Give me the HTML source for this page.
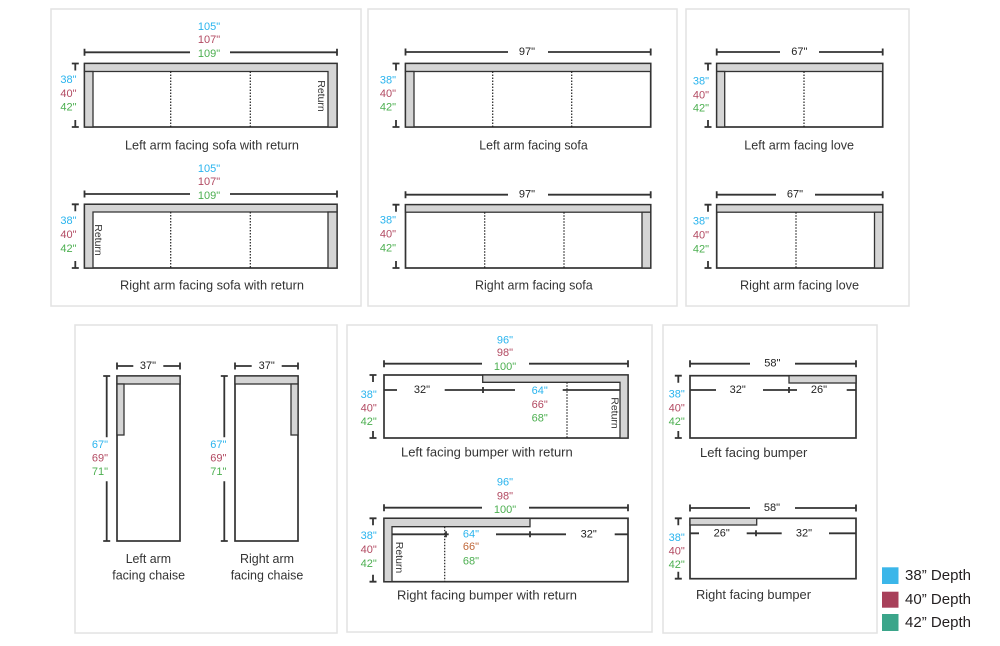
<!DOCTYPE html>
<html>
<head>
<meta charset="utf-8">
<style>
  html,body{margin:0;padding:0;background:#fff;}
  svg{display:block;}
  text{font-family:"Liberation Sans", Arial, sans-serif;}
  .c{fill:#2ab4ee;font-size:11px;}
  .r{fill:#b24a62;font-size:11px;}
  .g{fill:#4caf50;font-size:11px;}
  .o{fill:#c0683a;font-size:11px;}
  .k{fill:#222;font-size:11px;}
  .cap{fill:#333;font-size:12.9px;}
  .ret{fill:#333;font-size:10.5px;}
  .leg{fill:#231f20;font-size:14.5px;}
  .dim{stroke:#333;stroke-width:1.8;fill:none;}
  .sh{stroke:#333;stroke-width:1.7;fill:#fff;}
  .gr{stroke:#333;stroke-width:1.3;fill:#d5d5d5;}
  .dot{stroke:#222;stroke-width:1.2;stroke-dasharray:1.5 1.5;fill:none;}
  .pan{stroke:#e2e2e2;stroke-width:1.5;fill:none;}
</style>
</head>
<body>
<svg width="1000" height="646" viewBox="0 0 1000 646" xmlns="http://www.w3.org/2000/svg">
  <!-- Panels -->
  <rect class="pan" x="51" y="9" width="310" height="297"/>
  <rect class="pan" x="368" y="9" width="309" height="297"/>
  <rect class="pan" x="686" y="9" width="223" height="297"/>
  <rect class="pan" x="75" y="325" width="262" height="308"/>
  <rect class="pan" x="347" y="325" width="305" height="307"/>
  <rect class="pan" x="663" y="325" width="214" height="308"/>

  <g text-anchor="middle" dominant-baseline="central">

  <!-- ===== P1 top: Left arm facing sofa with return ===== -->
  <path class="dim" d="M84.5 52.3 H190 M230 52.3 H337 M84.5 48.8 V55.8 M337 48.8 V55.8"/>
  <text class="c" x="209" y="27">105"</text>
  <text class="r" x="209" y="40">107"</text>
  <text class="g" x="209" y="54">109"</text>
  <rect class="sh" x="84.5" y="63.5" width="252.5" height="63.5"/>
  <polygon class="gr" points="84.5,63.5 337,63.5 337,127 328,127 328,71.5 84.5,71.5"/>
  <rect class="gr" x="84.5" y="71.5" width="8.5" height="55.5"/>
  <path class="dot" d="M170.7 71.5 V127 M250.3 71.5 V127"/>
  <text class="ret" transform="translate(321,96) rotate(90)">Return</text>
  <path class="dim" d="M71.8 63.5 H78.8 M75.3 63.5 V70.5 M75.3 120 V127 M71.8 127 H78.8"/>
  <text class="c" x="68.5" y="80">38"</text>
  <text class="r" x="68.5" y="94">40"</text>
  <text class="g" x="68.5" y="107.5">42"</text>

  <!-- ===== P1 bottom: Right arm facing sofa with return ===== -->
  <path class="dim" d="M84.5 194 H190 M230 194 H337 M84.5 190.5 V197.5 M337 190.5 V197.5"/>
  <text class="c" x="209" y="169">105"</text>
  <text class="r" x="209" y="182">107"</text>
  <text class="g" x="209" y="196">109"</text>
  <rect class="sh" x="84.5" y="204.3" width="252.5" height="63.7"/>
  <polygon class="gr" points="84.5,204.3 337,204.3 337,212 93,212 93,268 84.5,268"/>
  <rect class="gr" x="328" y="212" width="9" height="56"/>
  <path class="dot" d="M170.7 212 V268 M250.3 212 V268"/>
  <text class="ret" transform="translate(98,240) rotate(90)">Return</text>
  <path class="dim" d="M71.8 204.3 H78.8 M75.3 204.3 V211.3 M75.3 261 V268 M71.8 268 H78.8"/>
  <text class="c" x="68.5" y="221">38"</text>
  <text class="r" x="68.5" y="235">40"</text>
  <text class="g" x="68.5" y="249">42"</text>

  <!-- ===== P2 top: Left arm facing sofa ===== -->
  <path class="dim" d="M405.5 52 H508 M548 52 H650.7 M405.5 48.5 V55.5 M650.7 48.5 V55.5"/>
  <text class="k" x="527" y="52">97"</text>
  <rect class="sh" x="405.5" y="63.5" width="245.2" height="63.5"/>
  <rect class="gr" x="405.5" y="63.5" width="245.2" height="8"/>
  <rect class="gr" x="405.5" y="71.5" width="8.5" height="55.5"/>
  <path class="dot" d="M492.7 71.5 V127 M571.7 71.5 V127"/>
  <path class="dim" d="M392.5 63.5 H399.5 M396 63.5 V70.5 M396 120 V127 M392.5 127 H399.5"/>
  <text class="c" x="388" y="80.7">38"</text>
  <text class="r" x="388" y="94">40"</text>
  <text class="g" x="388" y="107.7">42"</text>

  <!-- ===== P2 bottom: Right arm facing sofa ===== -->
  <path class="dim" d="M405.5 194.7 H508 M548 194.7 H650.7 M405.5 191.2 V198.2 M650.7 191.2 V198.2"/>
  <text class="k" x="527" y="194.7">97"</text>
  <rect class="sh" x="405.5" y="204.7" width="245.2" height="63.3"/>
  <rect class="gr" x="405.5" y="204.7" width="245.2" height="7.5"/>
  <rect class="gr" x="642" y="212.2" width="8.7" height="55.8"/>
  <path class="dot" d="M484.7 212.2 V268 M564 212.2 V268"/>
  <path class="dim" d="M392.5 204.7 H399.5 M396 204.7 V211.7 M396 261 V268 M392.5 268 H399.5"/>
  <text class="c" x="388" y="220.3">38"</text>
  <text class="r" x="388" y="234.3">40"</text>
  <text class="g" x="388" y="248.3">42"</text>

  <!-- ===== P3 top: Left arm facing love ===== -->
  <path class="dim" d="M716.7 52 H780 M819 52 H882.7 M716.7 48.5 V55.5 M882.7 48.5 V55.5"/>
  <text class="k" x="799.3" y="52">67"</text>
  <rect class="sh" x="716.7" y="63.5" width="166" height="63.5"/>
  <rect class="gr" x="716.7" y="63.5" width="166" height="8"/>
  <rect class="gr" x="716.7" y="71.5" width="8" height="55.5"/>
  <path class="dot" d="M804 71.5 V127"/>
  <path class="dim" d="M704.5 63.5 H711.5 M708 63.5 V70.5 M708 120 V127 M704.5 127 H711.5"/>
  <text class="c" x="701" y="81.3">38"</text>
  <text class="r" x="701" y="95.3">40"</text>
  <text class="g" x="701" y="108.7">42"</text>

  <!-- ===== P3 bottom: Right arm facing love ===== -->
  <path class="dim" d="M716.7 194.7 H776 M815 194.7 H882.7 M716.7 191.2 V198.2 M882.7 191.2 V198.2"/>
  <text class="k" x="795" y="194.7">67"</text>
  <rect class="sh" x="716.7" y="204.7" width="166" height="63.3"/>
  <rect class="gr" x="716.7" y="204.7" width="166" height="7.5"/>
  <rect class="gr" x="874.5" y="212.2" width="8.2" height="55.8"/>
  <path class="dot" d="M796 212.2 V268"/>
  <path class="dim" d="M704.5 204.7 H711.5 M708 204.7 V211.7 M708 261 V268 M704.5 268 H711.5"/>
  <text class="c" x="701" y="221.3">38"</text>
  <text class="r" x="701" y="235.7">40"</text>
  <text class="g" x="701" y="249.7">42"</text>

  <!-- ===== P4: chaises ===== -->
  <path class="dim" d="M117 366 H133.3 M163.3 366 H180 M117 362.5 V369.5 M180 362.5 V369.5"/>
  <text class="k" x="148" y="366">37"</text>
  <rect class="sh" x="117" y="376" width="63" height="165"/>
  <rect class="gr" x="117" y="376" width="63" height="8"/>
  <rect class="gr" x="117" y="384" width="7" height="51"/>
  <path class="dim" d="M106.7 376 V437.3 M106.7 481.3 V541 M103.2 376 H110.2 M103.2 541 H110.2"/>
  <text class="c" x="100" y="445">67"</text>
  <text class="r" x="100" y="458.5">69"</text>
  <text class="g" x="100" y="472">71"</text>

  <path class="dim" d="M235 366 H251.7 M281.7 366 H298 M235 362.5 V369.5 M298 362.5 V369.5"/>
  <text class="k" x="266.7" y="366">37"</text>
  <rect class="sh" x="235" y="376" width="63" height="165"/>
  <rect class="gr" x="235" y="376" width="63" height="8"/>
  <rect class="gr" x="291" y="384" width="7" height="51"/>
  <path class="dim" d="M224.3 376 V437.3 M224.3 481.3 V541 M220.8 376 H227.8 M220.8 541 H227.8"/>
  <text class="c" x="218.3" y="445">67"</text>
  <text class="r" x="218.3" y="458.5">69"</text>
  <text class="g" x="218.3" y="472">71"</text>

  <!-- ===== P5 top: Left facing bumper with return ===== -->
  <path class="dim" d="M384 363.7 H482 M529 363.7 H628 M384 360.2 V367.2 M628 360.2 V367.2"/>
  <text class="c" x="505" y="340.7">96"</text>
  <text class="r" x="505" y="353">98"</text>
  <text class="g" x="505" y="367">100"</text>
  <rect class="sh" x="384" y="375" width="244" height="63"/>
  <polygon class="gr" points="482.7,375 628,375 628,438 620,438 620,382.3 482.7,382.3"/>
  <path class="dot" d="M567 382.3 V438"/>
  <path class="dim" d="M384 390 H397 M444.7 390 H515 M562.7 390 H620 M483 387 V393"/>
  <text class="k" x="422" y="390">32"</text>
  <text class="c" x="539.7" y="391">64"</text>
  <text class="r" x="539.7" y="405">66"</text>
  <text class="g" x="539.7" y="418.7">68"</text>
  <text class="ret" transform="translate(614.7,413) rotate(90)">Return</text>
  <path class="dim" d="M369.5 375 H376.5 M373 375 V382 M373 431 V438 M369.5 438 H376.5"/>
  <text class="c" x="368.7" y="395">38"</text>
  <text class="r" x="368.7" y="408.5">40"</text>
  <text class="g" x="368.7" y="422">42"</text>

  <!-- ===== P5 bottom: Right facing bumper with return ===== -->
  <path class="dim" d="M384 507.7 H482 M529 507.7 H628 M384 504.2 V511.2 M628 504.2 V511.2"/>
  <text class="c" x="505" y="482.7">96"</text>
  <text class="r" x="505" y="496.7">98"</text>
  <text class="g" x="505" y="510">100"</text>
  <rect class="sh" x="384" y="518.3" width="244" height="63.4"/>
  <polygon class="gr" points="384,518.3 530,518.3 530,526.7 392,526.7 392,581.7 384,581.7"/>
  <path class="dot" d="M444.7 526.7 V581.7"/>
  <path class="dim" d="M392 534.3 H448.7 M496 534.3 H566 M614.7 534.3 H628 M446 531.3 V537.3 M530 531.3 V537.3"/>
  <text class="c" x="471" y="534.3">64"</text>
  <text class="o" x="471" y="547">66"</text>
  <text class="g" x="471" y="561.7">68"</text>
  <text class="k" x="588.7" y="534.3">32"</text>
  <text class="ret" transform="translate(399,557.5) rotate(90)">Return</text>
  <path class="dim" d="M369.5 518.3 H376.5 M373 518.3 V525.3 M373 574.7 V581.7 M369.5 581.7 H376.5"/>
  <text class="c" x="368.7" y="536">38"</text>
  <text class="r" x="368.7" y="550">40"</text>
  <text class="g" x="368.7" y="564">42"</text>

  <!-- ===== P6 top: Left facing bumper ===== -->
  <path class="dim" d="M690 363.7 H750 M795 363.7 H856 M690 360.2 V367.2 M856 360.2 V367.2"/>
  <text class="k" x="772.3" y="363.7">58"</text>
  <rect class="sh" x="690" y="375.7" width="166" height="62.3"/>
  <rect class="gr" x="789" y="375.7" width="67" height="7.3"/>
  <path class="dim" d="M690 390 H716 M763 390 H797 M846.7 390 H856 M789 387 V393"/>
  <text class="k" x="737.7" y="390">32"</text>
  <text class="k" x="819" y="390">26"</text>
  <path class="dim" d="M674.8 375.7 H681.8 M678.3 375.7 V382.7 M678.3 431 V438 M674.8 438 H681.8"/>
  <text class="c" x="676.7" y="394.7">38"</text>
  <text class="r" x="676.7" y="408.3">40"</text>
  <text class="g" x="676.7" y="422">42"</text>

  <!-- ===== P6 bottom: Right facing bumper ===== -->
  <path class="dim" d="M690 508 H750 M795 508 H856 M690 504.5 V511.5 M856 504.5 V511.5"/>
  <text class="k" x="772" y="508">58"</text>
  <rect class="sh" x="690" y="518.3" width="166" height="60.4"/>
  <rect class="gr" x="690" y="518.3" width="66.7" height="6.7"/>
  <path class="dim" d="M690 533.3 H699 M746.7 533.3 H781.7 M829 533.3 H856 M756 530.3 V536.3"/>
  <text class="k" x="721.7" y="533.3">26"</text>
  <text class="k" x="804" y="533.3">32"</text>
  <path class="dim" d="M674.8 518.3 H681.8 M678.3 518.3 V525.3 M678.3 571.7 V578.7 M674.8 578.7 H681.8"/>
  <text class="c" x="676.7" y="538">38"</text>
  <text class="r" x="676.7" y="551.3">40"</text>
  <text class="g" x="676.7" y="565">42"</text>
  </g>

  <!-- Captions -->
  <g dominant-baseline="central" text-anchor="start">
    <text class="cap" x="125" y="145" textLength="174" lengthAdjust="spacingAndGlyphs">Left arm facing sofa with return</text>
    <text class="cap" x="120" y="285" textLength="184" lengthAdjust="spacingAndGlyphs">Right arm facing sofa with return</text>
    <text class="cap" x="479.3" y="145" textLength="108.4" lengthAdjust="spacingAndGlyphs">Left arm facing sofa</text>
    <text class="cap" x="475" y="285" textLength="117.7" lengthAdjust="spacingAndGlyphs">Right arm facing sofa</text>
    <text class="cap" x="744.3" y="145" textLength="109.7" lengthAdjust="spacingAndGlyphs">Left arm facing love</text>
    <text class="cap" x="740" y="285" textLength="119" lengthAdjust="spacingAndGlyphs">Right arm facing love</text>
    <text class="cap" x="125.7" y="558.7" textLength="45.3" lengthAdjust="spacingAndGlyphs">Left arm</text>
    <text class="cap" x="112.3" y="575" textLength="72.7" lengthAdjust="spacingAndGlyphs">facing chaise</text>
    <text class="cap" x="240" y="558.7" textLength="54" lengthAdjust="spacingAndGlyphs">Right arm</text>
    <text class="cap" x="230.7" y="575" textLength="72.6" lengthAdjust="spacingAndGlyphs">facing chaise</text>
    <text class="cap" x="401" y="452" textLength="171.7" lengthAdjust="spacingAndGlyphs">Left facing bumper with return</text>
    <text class="cap" x="397" y="595" textLength="180" lengthAdjust="spacingAndGlyphs">Right facing bumper with return</text>
    <text class="cap" x="700" y="452.3" textLength="107.3" lengthAdjust="spacingAndGlyphs">Left facing bumper</text>
    <text class="cap" x="696" y="594.7" textLength="115" lengthAdjust="spacingAndGlyphs">Right facing bumper</text>
  </g>

  <!-- Legend -->
  <rect x="882" y="567.3" width="16.5" height="16.7" fill="#3bb6e9"/>
  <rect x="882" y="591.7" width="16.5" height="16" fill="#a8405a"/>
  <rect x="882" y="614" width="16.5" height="17" fill="#3ba58a"/>
  <g dominant-baseline="central" text-anchor="start">
    <text class="leg" x="905" y="576" textLength="66" lengthAdjust="spacingAndGlyphs">38” Depth</text>
    <text class="leg" x="905" y="600" textLength="66" lengthAdjust="spacingAndGlyphs">40” Depth</text>
    <text class="leg" x="905" y="623" textLength="66" lengthAdjust="spacingAndGlyphs">42” Depth</text>
  </g>
</svg>
</body>
</html>
